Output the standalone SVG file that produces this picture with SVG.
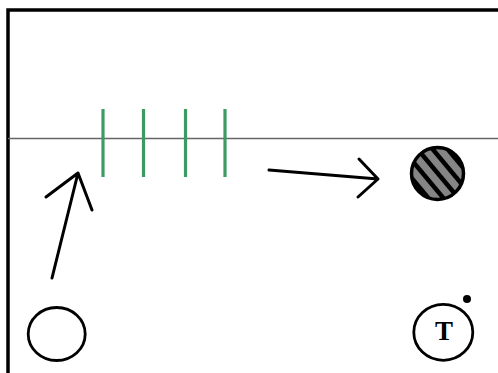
<svg xmlns="http://www.w3.org/2000/svg" width="498" height="373" viewBox="0 0 498 373">
<defs>
<style>
.ink{stroke:#000;fill:none;stroke-linecap:round;stroke-linejoin:round}
.cone{stroke:#3c9a62;stroke-width:3.2}
</style>
<clipPath id="hc"><circle cx="437.5" cy="173.5" r="26"/></clipPath>
</defs>
<rect width="498" height="373" fill="#fff"/>
<g id="frame">
<path d="M8 373 V10 H498" fill="none" stroke="#000" stroke-width="3.5"/>
<line x1="8" y1="138.5" x2="498" y2="138.5" stroke="#666" stroke-width="1.5"/>
</g>
<g id="cones">
<line class="cone" x1="103" y1="109" x2="103" y2="177"/>
<line class="cone" x1="143.5" y1="109" x2="143.5" y2="177"/>
<line class="cone" x1="185.5" y1="109" x2="185.5" y2="177"/>
<line class="cone" x1="225" y1="109" x2="225" y2="177"/>
</g>
<g id="player">
<ellipse cx="56.7" cy="334" rx="28.5" ry="26.5" class="ink" stroke-width="2.8"/>
</g>
<g id="ball">
<circle cx="437.5" cy="173.5" r="26" fill="#858585"/>
<g clip-path="url(#hc)" stroke="#000" stroke-width="4.5">
<line x1="400" y1="146" x2="450" y2="206"/>
<line x1="410" y1="140" x2="460" y2="200"/>
<line x1="420" y1="134" x2="470" y2="194"/>
<line x1="430" y1="128" x2="480" y2="188"/>
<line x1="390" y1="152" x2="440" y2="212"/>
</g>
<circle cx="437.5" cy="173.5" r="26" fill="none" stroke="#000" stroke-width="3.5"/>
</g>
<g id="target">
<ellipse cx="443.3" cy="332.3" rx="29.5" ry="28" class="ink" stroke-width="2.8"/>
<text x="444" y="340" font-family="Liberation Serif, serif" font-weight="bold" font-size="27" text-anchor="middle">T</text>
<circle cx="467" cy="299" r="4" fill="#000"/>
</g>
<g id="connectors">
<path class="ink" stroke-width="3" d="M52 278 L78 173 M46 197 L78 173 L92 210"/>
<path class="ink" stroke-width="3" d="M269 170 L378 179 M359 159 L378 179 L358 197"/>
</g>
</svg>
